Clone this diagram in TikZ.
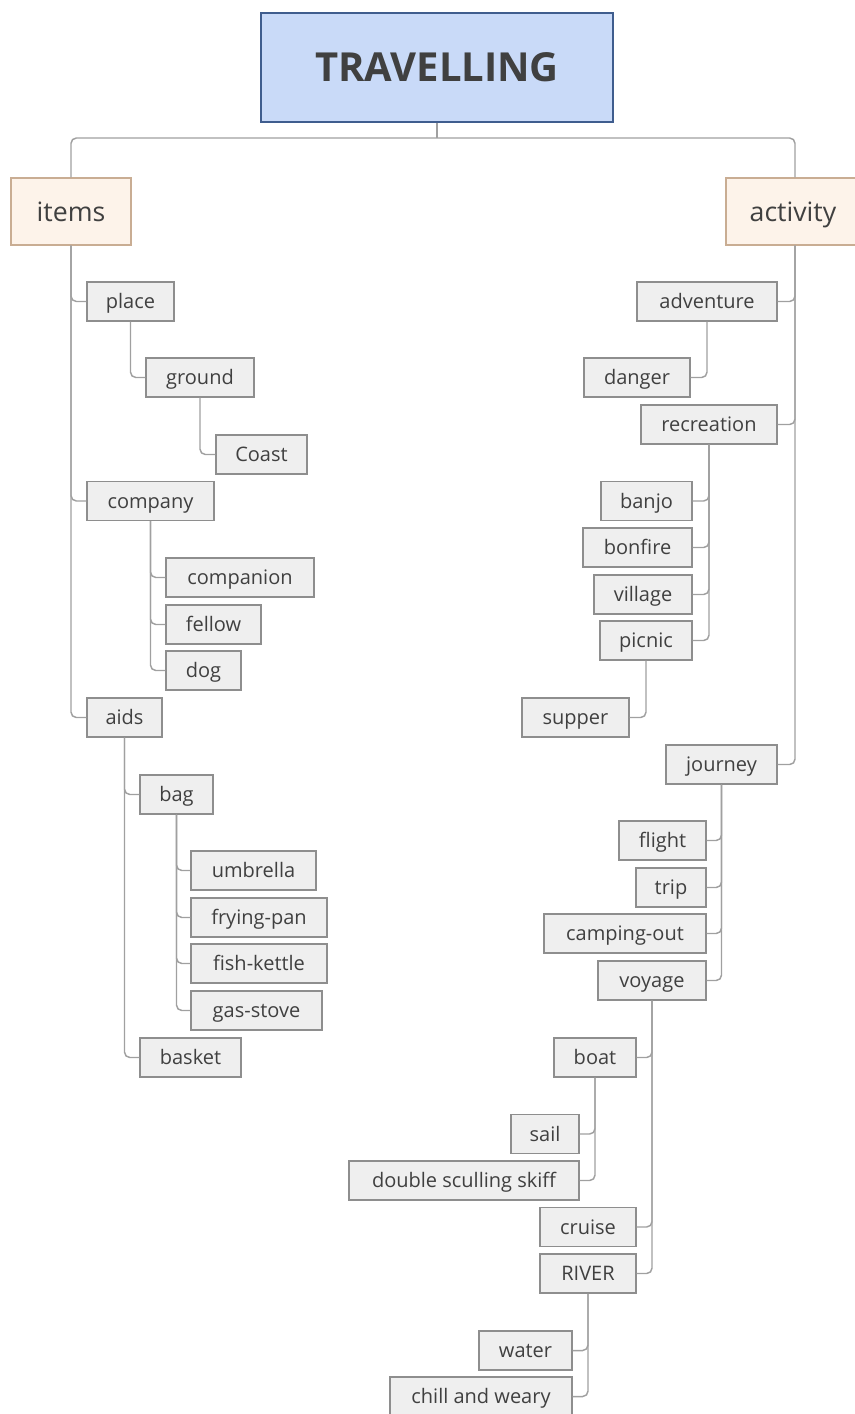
\documentclass[tikz,border=0pt]{standalone}
\usepackage{fontspec}
\setmainfont{Open Sans}
\begin{document}
\begin{tikzpicture}[x=0.75pt,y=-0.75pt,
  txt/.style={text=black!75},
  rootbox/.style={draw=rootb, fill=rootf, line width=0.9pt, inner sep=0pt, txt,
     font=\fontsize{30}{34}\selectfont\bfseries},
  catbox/.style={draw=catb, fill=catf, line width=0.9pt, inner sep=0pt, txt,
     minimum height=67*0.75pt, text height=16pt, text depth=1pt, font=\fontsize{20}{24}\selectfont},
  leaf/.style={draw=leafb, fill=leaff, line width=1.1pt, inner sep=0pt, txt,
     minimum height=39*0.75pt, minimum width=#1*0.75pt, text height=11.5pt, text depth=1pt,
     font=\fontsize{15}{18}\selectfont},
  conn/.style={draw=connc, line width=1.1pt, rounded corners=4pt}
]
\definecolor{rootb}{HTML}{3F5D8E}
\definecolor{rootf}{HTML}{C9DAF8}
\definecolor{catb}{HTML}{C9AD93}
\definecolor{catf}{HTML}{FDF3EA}
\definecolor{leafb}{HTML}{8E8E8E}
\definecolor{leaff}{HTML}{EFEFEF}
\definecolor{connc}{HTML}{A0A0A0}
\useasboundingbox (0,0) rectangle (854,1414);

% root and categories
\node[rootbox, minimum width=352*0.75pt, minimum height=109*0.75pt] (root) at (437,67.5) {TRAVELLING};
\node[catbox, minimum width=120*0.75pt] (items) at (71,211.5) {items};
\node[catbox, minimum width=138*0.75pt] (activity) at (795,211.5) {\hspace*{-3pt}activity};
\coordinate (rj) at (437,138);
\draw[conn] (items.north) |- (rj) -| (activity.north);
\draw[conn] (root.south) -- (rj);

% left side
\node[leaf=87]  (place)     at (130.5,301.5) {place};
\node[leaf=108] (ground)    at (200,377.5)   {ground};
\node[leaf=91]  (coast)     at (261.5,454.5) {Coast};
\node[leaf=127] (company)   at (150.5,501)   {company};
\node[leaf=148] (companion) at (240,577.5)   {companion};
\node[leaf=95]  (fellow)    at (213.5,624.5) {fellow};
\node[leaf=75]  (dog)       at (203.5,670.5) {dog};
\node[leaf=75]  (aids)      at (124.5,717.5) {aids};
\node[leaf=73]  (bag)       at (176.5,794.5) {bag};
\node[leaf=125] (umbrella)  at (253.5,870.5) {umbrella};
\node[leaf=136] (fryingpan) at (259,917.5)   {frying-pan};
\node[leaf=136] (fishkettle) at (259,963.5)  {fish-kettle};
\node[leaf=131] (gasstove)  at (256.5,1010.5) {gas-stove};
\node[leaf=101] (basket)    at (190.5,1057.5) {basket};

\foreach \c in {place,company,aids}
  \draw[conn] (items.south) |- (\c.west);
\draw[conn] (place.south) |- (ground.west);
\draw[conn] (ground.south) |- (coast.west);
\foreach \c in {companion,fellow,dog}
  \draw[conn] (company.south) |- (\c.west);
\foreach \c in {bag,basket}
  \draw[conn] (aids.south) |- (\c.west);
\foreach \c in {umbrella,fryingpan,fishkettle,gasstove}
  \draw[conn] (bag.south) |- (\c.west);

% right side
\node[leaf=140] (adventure)  at (707,301.5)  {adventure};
\node[leaf=106] (danger)     at (637,377.5)  {danger};
\node[leaf=136] (recreation) at (709,424.5)  {recreation};
\node[leaf=91]  (banjo)      at (646.5,501)  {banjo};
\node[leaf=109] (bonfire)    at (637.5,547.5) {bonfire};
\node[leaf=98]  (village)    at (643,594.5)  {village};
\node[leaf=92]  (picnic)     at (646,640.5)  {picnic};
\node[leaf=107] (supper)     at (575.5,717.5) {supper};
\node[leaf=111] (journey)    at (721.5,764.5) {journey};
\node[leaf=87]  (flight)     at (662.5,840.5) {flight};
\node[leaf=70]  (trip)       at (671,887.5)  {trip};
\node[leaf=162] (campingout) at (625,933.5)  {camping-out};
\node[leaf=108] (voyage)     at (652,980.5)  {voyage};
\node[leaf=82]  (boat)       at (595,1057.5) {boat};
\node[leaf=68]  (sail)       at (545,1134)   {sail};
\node[leaf=230] (skiff)      at (464,1180.5) {double sculling skiff};
\node[leaf=96]  (cruise)     at (588,1227)   {cruise};
\node[leaf=96]  (river)      at (588,1273.5) {RIVER};
\node[leaf=93]  (water)      at (525.5,1350.5) {water};
\node[leaf=182] (chill)      at (481,1396.5) {chill and weary};

\foreach \c in {adventure,recreation,journey}
  \draw[conn] (activity.south) |- (\c.east);
\draw[conn] (adventure.south) |- (danger.east);
\foreach \c in {banjo,bonfire,village,picnic}
  \draw[conn] (recreation.south) |- (\c.east);
\draw[conn] (picnic.south) |- (supper.east);
\foreach \c in {flight,trip,campingout,voyage}
  \draw[conn] (journey.south) |- (\c.east);
\foreach \c in {boat,cruise,river}
  \draw[conn] (voyage.south) |- (\c.east);
\foreach \c in {sail,skiff}
  \draw[conn] (boat.south) |- (\c.east);
\foreach \c in {water,chill}
  \draw[conn] (river.south) |- (\c.east);
\end{tikzpicture}
\end{document}
